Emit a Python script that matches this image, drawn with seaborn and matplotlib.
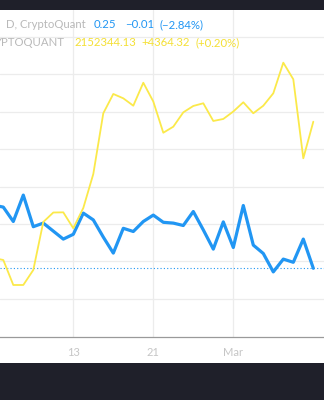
import numpy as np
import pandas as pd
import matplotlib
matplotlib.use("Agg")
import matplotlib.pyplot as plt
from matplotlib.patches import Rectangle
import seaborn as sns

# ---- data ----
dates = pd.date_range("2023-02-05", "2023-03-09", freq="D")
blue_values = [0.2658, 0.2653, 0.2617, 0.2683, 0.2604, 0.2613, 0.2593, 0.2573,
               0.2585, 0.2638, 0.2621, 0.2578, 0.2538, 0.2600, 0.2592, 0.2617,
               0.2633, 0.2615, 0.2613, 0.2607, 0.2642, 0.2596, 0.2548, 0.2616,
               0.2552, 0.2657, 0.2558, 0.2537, 0.2491, 0.2523, 0.2515, 0.2573,
               0.2500]
yellow_values = [2136100, 2135860, 2132880, 2132880, 2134670, 2140390, 2141520,
                 2141540, 2139640, 2142060, 2146110, 2153350, 2155650, 2155130,
                 2154250, 2156990, 2154750, 2151030, 2151750, 2153460, 2154220,
                 2154540, 2152430, 2152670, 2153560, 2154660, 2153350, 2154250,
                 2155730, 2159380, 2157400, 2147979.81, 2152344.13]
tick_dates = ["2023-02-13", "2023-02-21", "2023-03-01"]
tick_labels = ["13", "21", "Mar"]
legend_blue_name = "D, CryptoQuant"
legend_blue_vals = ["0.25", "\u22120.01", "(\u22122.84%)"]
legend_yellow_name = "YPTOQUANT"
legend_yellow_vals = ["2152344.13", "+4364.32", "(+0.20%)"]

df = pd.DataFrame({"date": dates, "blue": blue_values, "yellow": yellow_values})

BLUE = "#2196f3"
YELLOW = "#fbe94a"
YTEXT = "#f4e035"
DARK = "#1f202a"
GRID = "#ececec"

sns.set_theme(style="white")
plt.rcParams["font.family"] = ["Lato", "DejaVu Sans"]

W, H = 324, 400
fig = plt.figure(figsize=(W / 100, H / 100), dpi=100, facecolor=DARK)
fig.add_artist(Rectangle((0, 37 / H), 1, (363 - 10) / H, transform=fig.transFigure,
                         facecolor="white", edgecolor="none", zorder=0))

ax_top, ax_bot = 10, 337
ax = fig.add_axes([0, (H - ax_bot) / H, 1, (ax_bot - ax_top) / H])
ax.set_facecolor("white")

sns.lineplot(data=df, x="date", y="blue", ax=ax, color=BLUE, linewidth=2.3, zorder=3)
ax.axhline(blue_values[-1], color=BLUE, linestyle=(0, (1, 2)), linewidth=0.8, zorder=2)

ax2 = ax.twinx()
sns.lineplot(data=df, x="date", y="yellow", ax=ax2, color=YELLOW, linewidth=1.3, zorder=3)

# scales
left = pd.Timestamp("2023-02-13") - pd.Timedelta(days=7.33)
right = pd.Timestamp("2023-02-13") + pd.Timedelta(days=25.07)
ax.set_xlim(left, right)
ax.set_ylim(0.232825, 0.314575)
ax2.set_ylim(2126680, 2165659)

# horizontal grid
gy = 0.242325 + 0.009375 * np.arange(8)
ax.set_yticks(gy)
ax.yaxis.grid(True, color=GRID, linewidth=0.9)
ax.tick_params(axis="y", left=False, labelleft=False, right=False, labelright=False)
ax2.set_yticks([])
ax2.tick_params(axis="y", right=False, labelright=False)

ax.set_xticks(pd.to_datetime(tick_dates))
ax.set_xticklabels(tick_labels)
ax.xaxis.grid(True, color=GRID, linewidth=0.9)
ax.tick_params(axis="x", length=0, pad=7.5, labelsize=8, labelcolor="#c6c6c6")
ax.set_xlabel("")
ax.set_ylabel("")
ax2.set_ylabel("")
for a in (ax, ax2):
    for s in ("left", "right", "top"):
        a.spines[s].set_visible(False)
ax2.spines["bottom"].set_visible(False)
ax.spines["bottom"].set_color("#9a9a9a")
ax.spines["bottom"].set_linewidth(0.9)
ax.set_axisbelow(True)

# legend texts (pixel positions)
def ftext(x, y, s, color, ha="left"):
    fig.text(x / W, 1 - y / H, s, color=color, fontsize=8.2, ha=ha, va="center")

ftext(86, 25, legend_blue_name, "#b9b9b9", ha="right")
for xp, s in zip([94, 125, 159], legend_blue_vals):
    ftext(xp, 25, s, BLUE)
ftext(65, 43, legend_yellow_name, "#b9b9b9", ha="right")
ftext(74, 43, legend_yellow_vals[0], YTEXT)
ftext(141, 43, legend_yellow_vals[1], YTEXT)
ftext(195, 43, legend_yellow_vals[2], YTEXT)

fig.savefig("out.png", dpi=100, facecolor=DARK)
